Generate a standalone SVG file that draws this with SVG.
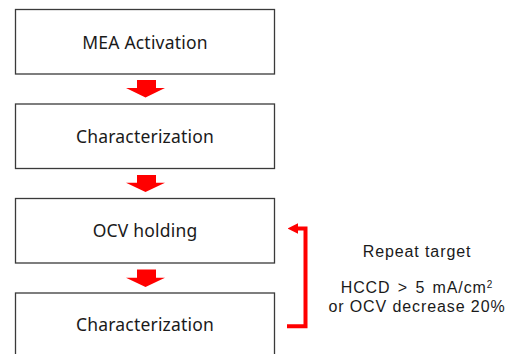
<svg xmlns="http://www.w3.org/2000/svg" width="514" height="354" viewBox="0 0 514 354">
<style>
.box{fill:#fff;stroke:#3a3a3a;stroke-width:1.3}
.t{font-family:"Noto Sans","Open Sans",sans-serif;font-size:17.5px;fill:#1a1a1a;text-anchor:middle;letter-spacing:0.2px}
.r{font-family:"Liberation Sans",Arial,sans-serif;font-size:16px;fill:#1a1a1a;text-anchor:middle;letter-spacing:0.9px}
.arr{fill:#ff0000}
</style>
<defs>
<marker id="ah" viewBox="0 0 10 10" refX="2" refY="5" markerWidth="2.6" markerHeight="3" orient="auto" markerUnits="strokeWidth">
<path d="M0,0 L10,5 L0,10 Z" fill="#ff0000"/>
</marker>
</defs>
<rect width="514" height="354" fill="#fff"/>
<g id="n1"><rect class="box" x="15.5" y="9.5" width="259" height="64.5"/><text class="t" x="145" y="48.5">MEA Activation</text></g>
<g id="n2"><rect class="box" x="15.5" y="104" width="259" height="64.5"/><text class="t" x="145" y="142.5">Characterization</text></g>
<g id="n3"><rect class="box" x="15.5" y="198.5" width="259" height="64.5"/><text class="t" x="145" y="237">OCV holding</text></g>
<g id="n4"><rect class="box" x="15.5" y="293" width="259" height="70"/><text class="t" x="145" y="330.5">Characterization</text></g>
<g id="connectors">
<polygon class="arr" points="137,80 156,80 156,88 165,88 145.5,97.5 126,88 137,88"/>
<polygon class="arr" points="137,175 156,175 156,182.7 165,182.7 145.5,192 126,182.7 137,182.7"/>
<polygon class="arr" points="137,269.5 156,269.5 156,277.7 165,277.7 145.5,287 126,277.7 137,277.7"/>
<path d="M287,326.3 H305.5 V228.5 H296" fill="none" stroke="#ff0000" stroke-width="4" marker-end="url(#ah)"/>
</g>
<g id="label">
<text class="r" x="417" y="256.5">Repeat target</text>
<text class="r" x="417" y="293" word-spacing="2">HCCD &gt; 5 mA/cm<tspan font-size="10" dy="-5.5">2</tspan></text>
<text class="r" x="417" y="312">or OCV decrease 20%</text>
</g>
</svg>
